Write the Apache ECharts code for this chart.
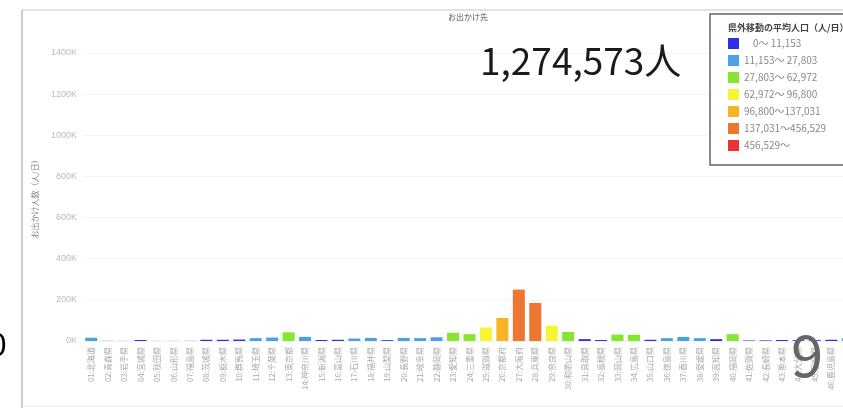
<!DOCTYPE html>
<html>
<head>
<meta charset="utf-8">
<script src="https://cdn.jsdelivr.net/npm/echarts@6/dist/echarts.min.js"></script>
<style>
html,body{margin:0;padding:0;background:#fff;overflow:hidden;}
#c{width:860px;height:408px;}
</style>
</head>
<body>
<div id="c"></div>
<script>
const categories = ['01:北海道','02:青森県','03:岩手県','04:宮城県','05:秋田県','06:山形県','07:福島県','08:茨城県','09:栃木県','10:群馬県','11:埼玉県','12:千葉県','13:東京都','14:神奈川県','15:新潟県','16:富山県','17:石川県','18:福井県','19:山梨県','20:長野県','21:岐阜県','22:静岡県','23:愛知県','24:三重県','25:滋賀県','26:京都府','27:大阪府','28:兵庫県','29:奈良県','30:和歌山県','31:鳥取県','32:島根県','33:岡山県','34:広島県','35:山口県','36:徳島県','37:香川県','38:愛媛県','39:高知県','40:福岡県','41:佐賀県','42:長崎県','43:熊本県','44:大分県','45:宮崎県','46:鹿児島県','47:沖縄県'];
const values = [16000,800,500,5000,400,500,700,6000,6000,7000,14000,17000,42000,20000,5000,6000,12000,15000,4000,15000,14000,18000,40000,33000,66000,112000,250000,185000,75000,44000,9000,5000,31000,30000,6000,14000,20000,14000,9000,33000,2500,3000,5000,4000,4000,6000,14000];
const legendLabels = ['    0～ 11,153','11,153～ 27,803','27,803～ 62,972','62,972～ 96,800','96,800～137,031','137,031～456,529','456,529～'];
const thresholds = [0,11153,27803,62972,96800,137031,456529];
const legendColors = ['#2f2fe6','#4aa2e6','#86e52f','#f6f533','#f6b424','#ef7630','#e83434'];
const yTicks = [0,200000,400000,600000,800000,1000000,1200000,1400000];

const pieces = thresholds.map((t,i)=>{
  const p = {gte:t, label:legendLabels[i], color:legendColors[i]};
  if (i < thresholds.length-1) p.lt = thresholds[i+1];
  return p;
});

const chart = echarts.init(document.getElementById('c'));
chart.setOption({
  animation:false,
  grid:{left:83,right:4,top:53,bottom:67},
  xAxis:{
    type:'category',
    data:categories,
    axisLine:{show:false},
    axisTick:{show:false},
    axisLabel:{rotate:90,interval:0,fontSize:8,color:'#aaa',margin:6,fontFamily:'Noto Sans CJK JP'}
  },
  yAxis:{
    type:'value',
    min:yTicks[0],max:yTicks[yTicks.length-1],interval:200000,
    name:'お出かけ人数（人/日）',
    nameLocation:'middle',nameRotate:90,nameGap:44,
    nameTextStyle:{fontSize:8,color:'#888',fontFamily:'Noto Sans CJK JP'},
    axisLine:{show:false},axisTick:{show:false},
    splitLine:{lineStyle:{color:'#f3f3f3',width:1}},
    axisLabel:{fontSize:9,color:'#bbb',margin:6,formatter:v=>(v/1000)+'K'}
  },
  visualMap:{
    type:'piecewise',
    dimension:1,
    seriesIndex:0,
    pieces:pieces,
    selectedMode:false,
    orient:'vertical',
    align:'left',
    inverse:true,
    left:713,top:23,
    itemWidth:11,itemHeight:11,itemGap:6,itemSymbol:'rect',
    textGap:5,
    textStyle:{fontSize:10,color:'#888',fontFamily:'Noto Sans CJK JP'},
    z:10
  },
  graphic:[
    {type:'line',shape:{x1:22,y1:10,x2:860,y2:10},style:{stroke:'#e2e2e2',lineWidth:2},z:1},
    {type:'line',shape:{x1:22,y1:10,x2:22,y2:408},style:{stroke:'#cccccc',lineWidth:2},z:1},
    {type:'line',shape:{x1:22,y1:406,x2:860,y2:406},style:{stroke:'#e6e6e6',lineWidth:1},z:1},
    {type:'rect',shape:{x:710,y:14,width:200,height:151},style:{fill:'#fff',stroke:'#666',lineWidth:1.5},z:5},
    {type:'text',left:728,top:23,style:{text:'県外移動の平均人口（人/日）',fontSize:9,fontWeight:'bold',fill:'#444',fontFamily:'Noto Sans CJK JP'},z:11},
    {type:'text',left:448,top:13,style:{text:'お出かけ先',fontSize:8,fill:'#555',fontFamily:'Noto Sans CJK JP'},z:11},
    {type:'text',left:480,top:42,style:{text:'1,274,573人',fontSize:37,fill:'#1a1a1a',fontFamily:'Noto Sans CJK JP'},z:11},
    {type:'text',left:-11,top:328,style:{text:'0',fontSize:32,fill:'#000',fontFamily:'Noto Sans CJK JP'},z:11},
    {type:'text',left:791,top:326,style:{text:'9',fontSize:58,fill:'#666',fontFamily:'Noto Sans CJK JP'},z:11}
  ],
  series:[{
    type:'bar',
    data:values,
    barWidth:12
  }]
});
</script>
</body>
</html>
